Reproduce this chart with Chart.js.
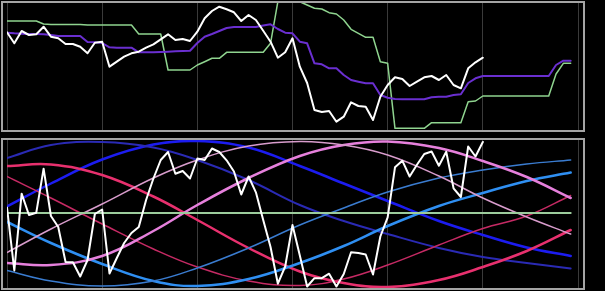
<!DOCTYPE html>
<html>
<head>
<meta charset="utf-8">
<script src="https://cdn.jsdelivr.net/npm/chart.js@4.4.1/dist/chart.umd.min.js"></script>
<style>
  html, body { margin: 0; padding: 0; background: #000; }
  #wrap { position: relative; width: 605px; height: 291px; overflow: hidden; background: #000; }
  canvas { position: absolute; left: 0; }
  #c1 { top: 0; }
  #c2 { top: 136px; }
  .frame { position: absolute; box-sizing: border-box; border: 2px solid #a4a4a4; pointer-events: none; }
  #f1 { left: 1px; top: 1px; width: 584px; height: 131px; }
  #f2 { left: 1px; top: 138px; width: 584px; height: 152px; }
</style>
</head>
<body>
<div id="wrap">
  <canvas id="c1" width="605" height="135"></canvas>
  <canvas id="c2" width="605" height="155"></canvas>
  <div class="frame" id="f1"></div>
  <div class="frame" id="f2"></div>
</div>
<script>
// ---------- DATA ----------
// Upper panel: price-like series, one value per bar index
const priceClose = [97.7,86.7,99,95,95.7,103.3,93.3,91.7,86,86,83.3,76.7,87.3,88.3,63.3,68.3,73.3,76.7,78.3,82.3,
  85.7,90.7,95.7,90,91,89,98.3,111.7,119,123.3,120.7,117.7,109,115,110,99.3,88.3,72.3,77.7,91.7,
  63.3,47,20,18,19,8.3,13.3,27.7,24,23.3,10,33.3,45,52.7,51,44,48.3,52.7,54,50,55,45,41.7,61.7,67.7,72.3];
const trendLine = [97.3,96.7,96.3,96,96,95.7,95,94,94,94,94,88,87.7,87,82.7,82.3,82.3,82.3,77.7,77.7,
  77.7,78,78.3,78.7,79,79.3,87,93.3,96,99,102,103,103,103,103,104.5,105.7,101,97.3,96.7,
  88.3,86.7,66.7,65.7,61.7,61.7,55,50,48.3,46.7,46.7,35,32.3,31,30.7,30.7,30.7,30.7,32.7,33.3,
  33.3,35,35.7,47,51.7,54,54,54,54,54,54,54,54,54,54,65,69.3,69.3];
const stopLine = [109,109,109,109,109,106,105.5,105.5,105.5,105.5,105.5,105,105,105,105,105,105,105,96,96,
  96,96,60,60,60,60,65,68.3,71.7,71.7,77.7,77.7,77.7,77.7,77.7,77.7,86.7,128.3,128.3,128.3,
  128.3,125,121.7,121,117.3,116,110,100.7,96.7,92.7,92.7,68.3,66.7,1.7,1.7,1.7,1.7,1.7,7.3,7.3,
  7.3,7.3,7.3,28.3,29,34,34,34,34,34,34,34,34,34,34,56,66.7,66.7];

// Lower panel: oscillator (one value per bar index)
const oscillator = [5.5,-57.5,19.3,-2,0.3,44.3,-3,-14,-49,-49.3,-63.5,-47,-1,3.5,-60.5,-45,-30,-20,-14,13,
  34.5,53,61,39.3,42,34.5,54.5,53,64.5,61,52.7,41.5,18.5,36.5,20.7,-7,-34,-70.7,-53.5,-12,
  -42.5,-73.5,-65.2,-65.2,-60.7,-73.5,-61,-39.3,-40,-41.5,-61.5,-23.5,-4.3,45.7,52.3,36.5,48.2,59,61.5,47.3,
  61.2,24.7,16,66.5,56.5,71];
const zeroX = [0, 77];
const zeroLevel = [0, 0];

// Lower panel: cycle waves, sampled at these bar indices
const waveX       = [0, 6, 13, 20, 26, 33, 40, 46, 52, 59, 65, 71, 77];
const waveNavy    = [55, 68, 71, 65.5, 53, 33, 8, -8, -21, -35, -44, -50, -55.5];
const waveBlue    = [6.5, 29.5, 53.5, 68.5, 72, 65.5, 47, 29.5, 12, -8, -22, -34.5, -43];
const waveCrimson = [47, 48.5, 38, 16.5, -7, -35, -58.5, -70, -74, -67, -54, -38, -17];
const waveRose    = [36.5, 15, -11, -36, -54, -68, -72.5, -66, -52, -32, -15.5, -3, 17.5];
const waveOrchid  = [-50, -52, -43, -18, 8, 35, 57, 68, 71.5, 65, 52, 36, 15];
const wavePink    = [-39.5, -16, 9, 35, 53, 67, 71.5, 68, 58, 37, 15, -4, -21];
const waveSky     = [-9, -30, -51, -68, -73, -66, -50, -33, -13, 7, 20, 32, 40.5];
const waveSteel   = [-57.5, -68, -73, -68, -55, -35, -12, 5, 21, 35, 43, 49, 53];

// ---------- helpers ----------
const byIndex = arr => arr.map((v, i) => ({ x: i, y: v }));
const byX = (xs, ys) => xs.map((x, i) => ({ x: x, y: ys[i] }));

function line(data, color, width, tension) {
  return { data, borderColor: color, borderWidth: width, pointRadius: 0, fill: false,
           tension: tension || 0, borderJoinStyle: 'round', borderCapStyle: 'round' };
}

function baseOptions(yMin, yMax, pad) {
  return {
    responsive: false, animation: false, devicePixelRatio: 1,
    layout: { padding: pad },
    plugins: { legend: { display: false }, tooltip: { enabled: false } },
    scales: {
      x: { type: 'linear', min: 0, max: 78,
           ticks: { display: false, stepSize: 13 },
           grid: { color: '#3a3a3a', lineWidth: 1, drawTicks: false },
           border: { display: false } },
      y: { display: false, min: yMin, max: yMax }
    }
  };
}

new Chart(document.getElementById('c1'), {
  type: 'line',
  data: { datasets: [
    line(byIndex(priceClose), '#ffffff', 2),
    line(byIndex(trendLine), '#6a2fd0', 2),
    line(byIndex(stopLine), '#8fd48f', 1.5)
  ]},
  options: baseOptions(0.5, 129, { left: 7, right: 27, top: 1, bottom: 5.5 })
});

new Chart(document.getElementById('c2'), {
  type: 'line',
  data: { datasets: [
    line(byIndex(oscillator), '#ffffff', 2),
    line(byX(zeroX, zeroLevel), '#9ccc9c', 2),
    line(byX(waveX, wavePink), '#d89ccc', 1.5, 0.4),
    line(byX(waveX, waveOrchid), '#e680dc', 2.5, 0.4),
    line(byX(waveX, waveSteel), '#3a7cd0', 1.5, 0.4),
    line(byX(waveX, waveSky), '#2f8ff2', 2.5, 0.4),
    line(byX(waveX, waveRose), '#c62a64', 1.5, 0.4),
    line(byX(waveX, waveCrimson), '#e8306e', 2.5, 0.4),
    line(byX(waveX, waveNavy), '#2a2ab4', 2, 0.4),
    line(byX(waveX, waveBlue), '#1c1cf0', 2.5, 0.4)
  ]},
  options: baseOptions(-75, 73, { left: 7, right: 27, top: 4, bottom: 3 })
});
</script>
</body>
</html>
